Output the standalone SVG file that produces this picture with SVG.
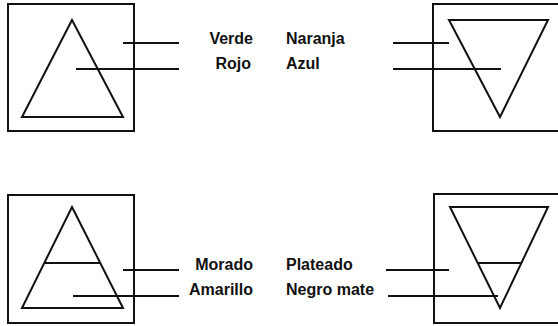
<svg xmlns="http://www.w3.org/2000/svg" width="558" height="326" viewBox="0 0 558 326">
<style>
.frame{fill:none;stroke:#111;stroke-width:2}
.shape{fill:none;stroke:#111;stroke-width:2;stroke-linejoin:miter}
.conn line{stroke:#111;stroke-width:1.8}
text{font-family:"Liberation Sans",Arial,sans-serif;font-weight:bold;font-size:16px;fill:#111}
.l{text-anchor:end}
</style>
<rect width="558" height="326" fill="#fff"/>
<g id="node-top-left">
<rect class="frame" x="8" y="4" width="126" height="127"/>
<polygon class="shape" points="72,20 123,117 22,117"/>
</g>
<g id="node-top-right">
<rect class="frame" x="433" y="4" width="135" height="127"/>
<polygon class="shape" points="449,20 548,20 500,117"/>
</g>
<g id="node-bottom-left">
<rect class="frame" x="8" y="195" width="126" height="128"/>
<polygon class="shape" points="72,207 123,308 22,308"/>
<line class="shape" x1="44" y1="263" x2="100" y2="263"/>
</g>
<g id="node-bottom-right">
<rect class="frame" x="434" y="194" width="134" height="129"/>
<polygon class="shape" points="450,207 548,207 500,308"/>
<line class="shape" x1="478" y1="263" x2="522" y2="263"/>
</g>
<g id="labels">
<text class="l" x="253" y="44">Verde</text>
<text class="l" x="251" y="69">Rojo</text>
<text x="286" y="44">Naranja</text>
<text x="286" y="69">Azul</text>
<text class="l" x="253" y="270">Morado</text>
<text class="l" x="253" y="295">Amarillo</text>
<text x="286" y="270">Plateado</text>
<text x="286" y="295">Negro mate</text>
</g>
<g id="connectors" class="conn">
<line x1="123" y1="43" x2="179" y2="43"/>
<line x1="76" y1="69" x2="179" y2="69"/>
<line x1="393" y1="43" x2="449" y2="43"/>
<line x1="393" y1="69" x2="501" y2="69"/>
<line x1="123" y1="270" x2="179" y2="270"/>
<line x1="73" y1="296" x2="179" y2="296"/>
<line x1="386" y1="270" x2="449" y2="270"/>
<line x1="388" y1="296" x2="498" y2="296"/>
</g>
</svg>
